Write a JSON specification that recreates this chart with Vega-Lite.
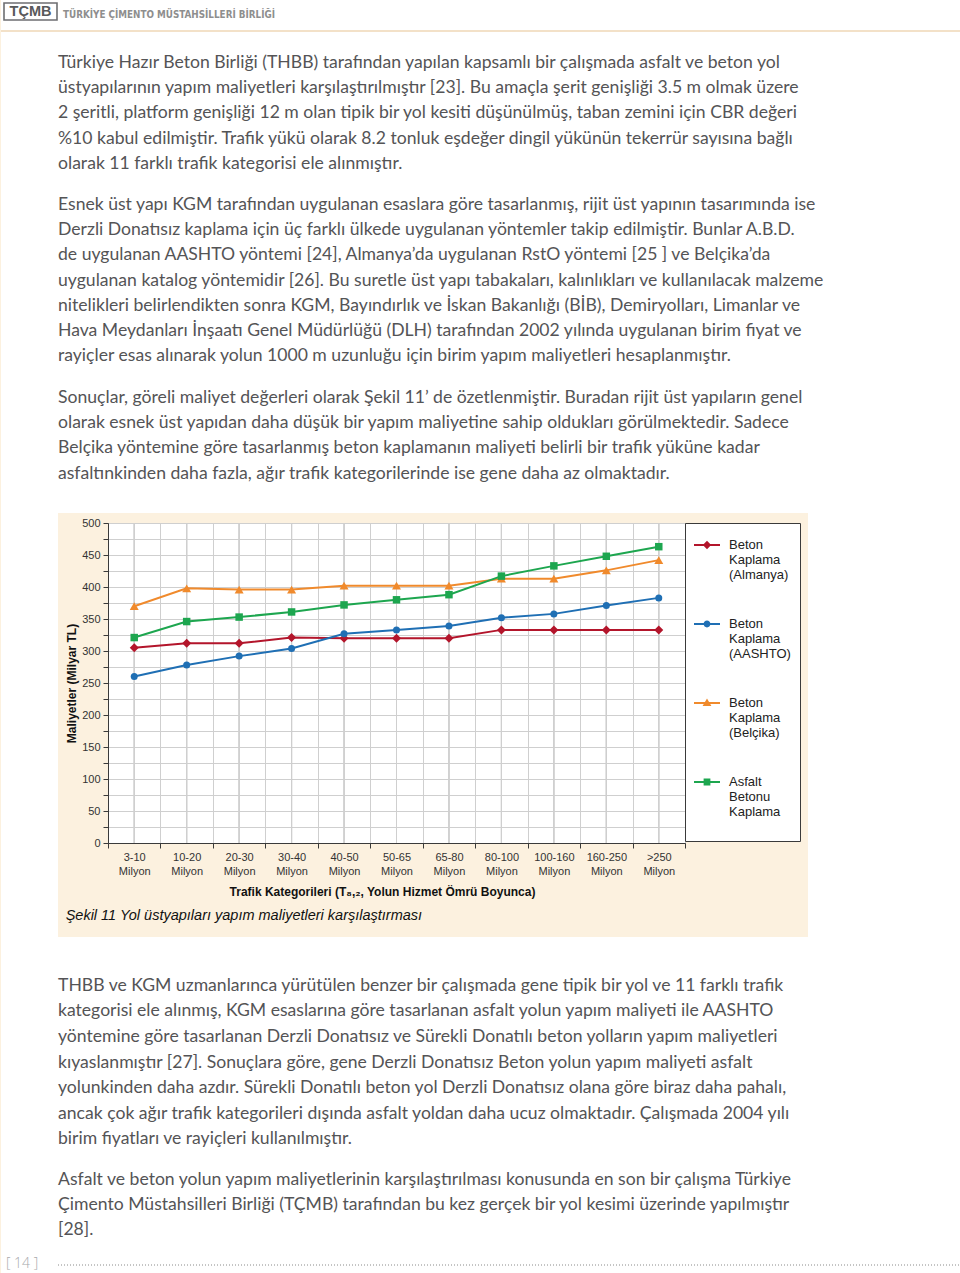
{
  "$schema": "https://vega.github.io/schema/vega-lite/v6.json",
  "padding": 0,
  "background": "#fcf1df",
  "spacing": 0,
  "resolve": {"scale": {"color": "independent", "shape": "independent"}, "legend": {"color": "independent", "shape": "independent"}},
  "config": {"view": {"stroke": null}, "font": "Liberation Sans"},
  "datasets": {
    "p1": [
      {"line": 1, "text": "Türkiye Hazır Beton Birliği (THBB) tarafından yapılan kapsamlı bir çalışmada asfalt ve beton yol"},
      {"line": 2, "text": "üstyapılarının yapım maliyetleri karşılaştırılmıştır [23]. Bu amaçla şerit genişliği 3.5 m olmak üzere"},
      {"line": 3, "text": "2 şeritli, platform genişliği 12 m olan tipik bir yol kesiti düşünülmüş, taban zemini için CBR değeri"},
      {"line": 4, "text": "%10 kabul edilmiştir. Trafik yükü olarak 8.2 tonluk eşdeğer dingil yükünün tekerrür sayısına bağlı"},
      {"line": 5, "text": "olarak 11 farklı trafik kategorisi ele alınmıştır."}
    ],
    "p2": [
      {"line": 1, "text": "Esnek üst yapı KGM tarafından uygulanan esaslara göre tasarlanmış, rijit üst yapının tasarımında ise"},
      {"line": 2, "text": "Derzli Donatısız kaplama için üç farklı ülkede uygulanan yöntemler takip edilmiştir. Bunlar A.B.D."},
      {"line": 3, "text": "de uygulanan AASHTO yöntemi [24], Almanya’da uygulanan RstO yöntemi [25 ] ve Belçika’da"},
      {"line": 4, "text": "uygulanan katalog yöntemidir [26]. Bu suretle üst yapı tabakaları, kalınlıkları ve kullanılacak malzeme"},
      {"line": 5, "text": "nitelikleri belirlendikten sonra KGM, Bayındırlık ve İskan Bakanlığı (BİB), Demiryolları, Limanlar ve"},
      {"line": 6, "text": "Hava Meydanları İnşaatı Genel Müdürlüğü (DLH) tarafından 2002 yılında uygulanan birim fiyat ve"},
      {"line": 7, "text": "rayiçler esas alınarak yolun 1000 m uzunluğu için birim yapım maliyetleri hesaplanmıştır."}
    ],
    "p3": [
      {"line": 1, "text": "Sonuçlar, göreli maliyet değerleri olarak Şekil 11’ de özetlenmiştir. Buradan rijit üst yapıların genel"},
      {"line": 2, "text": "olarak esnek üst yapıdan daha düşük bir yapım maliyetine sahip oldukları görülmektedir. Sadece"},
      {"line": 3, "text": "Belçika yöntemine göre tasarlanmış beton kaplamanın maliyeti belirli bir trafik yüküne kadar"},
      {"line": 4, "text": "asfaltınkinden daha fazla, ağır trafik kategorilerinde ise gene daha az olmaktadır."}
    ],
    "p4": [
      {"line": 1, "text": "THBB ve KGM uzmanlarınca yürütülen benzer bir çalışmada gene tipik bir yol ve 11 farklı trafik"},
      {"line": 2, "text": "kategorisi ele alınmış, KGM esaslarına göre tasarlanan asfalt yolun yapım maliyeti ile AASHTO"},
      {"line": 3, "text": "yöntemine göre tasarlanan Derzli Donatısız ve Sürekli Donatılı beton yolların yapım maliyetleri"},
      {"line": 4, "text": "kıyaslanmıştır [27]. Sonuçlara göre, gene Derzli Donatısız Beton yolun yapım maliyeti asfalt"},
      {"line": 5, "text": "yolunkinden daha azdır. Sürekli Donatılı beton yol Derzli Donatısız olana göre biraz daha pahalı,"},
      {"line": 6, "text": "ancak çok ağır trafik kategorileri dışında asfalt yoldan daha ucuz olmaktadır. Çalışmada 2004 yılı"},
      {"line": 7, "text": "birim fiyatları ve rayiçleri kullanılmıştır."}
    ],
    "p5": [
      {"line": 1, "text": "Asfalt ve beton yolun yapım maliyetlerinin karşılaştırılması konusunda en son bir çalışma Türkiye"},
      {"line": 2, "text": "Çimento Müstahsilleri Birliği (TÇMB) tarafından bu kez gerçek bir yol kesimi üzerinde yapılmıştır"},
      {"line": 3, "text": "[28]."}
    ],
    "cost": [
      {"series": "Beton Kaplama (Almanya)", "cat": "3-10 Milyon", "value": 305},
      {"series": "Beton Kaplama (Almanya)", "cat": "10-20 Milyon", "value": 312},
      {"series": "Beton Kaplama (Almanya)", "cat": "20-30 Milyon", "value": 312},
      {"series": "Beton Kaplama (Almanya)", "cat": "30-40 Milyon", "value": 321},
      {"series": "Beton Kaplama (Almanya)", "cat": "40-50 Milyon", "value": 320},
      {"series": "Beton Kaplama (Almanya)", "cat": "50-65 Milyon", "value": 320},
      {"series": "Beton Kaplama (Almanya)", "cat": "65-80 Milyon", "value": 320},
      {"series": "Beton Kaplama (Almanya)", "cat": "80-100 Milyon", "value": 333},
      {"series": "Beton Kaplama (Almanya)", "cat": "100-160 Milyon", "value": 333},
      {"series": "Beton Kaplama (Almanya)", "cat": "160-250 Milyon", "value": 333},
      {"series": "Beton Kaplama (Almanya)", "cat": ">250 Milyon", "value": 333},
      {"series": "Beton Kaplama (AASHTO)", "cat": "3-10 Milyon", "value": 260},
      {"series": "Beton Kaplama (AASHTO)", "cat": "10-20 Milyon", "value": 278},
      {"series": "Beton Kaplama (AASHTO)", "cat": "20-30 Milyon", "value": 292},
      {"series": "Beton Kaplama (AASHTO)", "cat": "30-40 Milyon", "value": 304},
      {"series": "Beton Kaplama (AASHTO)", "cat": "40-50 Milyon", "value": 327},
      {"series": "Beton Kaplama (AASHTO)", "cat": "50-65 Milyon", "value": 333},
      {"series": "Beton Kaplama (AASHTO)", "cat": "65-80 Milyon", "value": 339},
      {"series": "Beton Kaplama (AASHTO)", "cat": "80-100 Milyon", "value": 352},
      {"series": "Beton Kaplama (AASHTO)", "cat": "100-160 Milyon", "value": 358},
      {"series": "Beton Kaplama (AASHTO)", "cat": "160-250 Milyon", "value": 371},
      {"series": "Beton Kaplama (AASHTO)", "cat": ">250 Milyon", "value": 383},
      {"series": "Beton Kaplama (Belçika)", "cat": "3-10 Milyon", "value": 370},
      {"series": "Beton Kaplama (Belçika)", "cat": "10-20 Milyon", "value": 398},
      {"series": "Beton Kaplama (Belçika)", "cat": "20-30 Milyon", "value": 396},
      {"series": "Beton Kaplama (Belçika)", "cat": "30-40 Milyon", "value": 396},
      {"series": "Beton Kaplama (Belçika)", "cat": "40-50 Milyon", "value": 402},
      {"series": "Beton Kaplama (Belçika)", "cat": "50-65 Milyon", "value": 402},
      {"series": "Beton Kaplama (Belçika)", "cat": "65-80 Milyon", "value": 402},
      {"series": "Beton Kaplama (Belçika)", "cat": "80-100 Milyon", "value": 413},
      {"series": "Beton Kaplama (Belçika)", "cat": "100-160 Milyon", "value": 413},
      {"series": "Beton Kaplama (Belçika)", "cat": "160-250 Milyon", "value": 426},
      {"series": "Beton Kaplama (Belçika)", "cat": ">250 Milyon", "value": 442},
      {"series": "Asfalt Betonu Kaplama", "cat": "3-10 Milyon", "value": 321},
      {"series": "Asfalt Betonu Kaplama", "cat": "10-20 Milyon", "value": 346},
      {"series": "Asfalt Betonu Kaplama", "cat": "20-30 Milyon", "value": 353},
      {"series": "Asfalt Betonu Kaplama", "cat": "30-40 Milyon", "value": 361},
      {"series": "Asfalt Betonu Kaplama", "cat": "40-50 Milyon", "value": 372},
      {"series": "Asfalt Betonu Kaplama", "cat": "50-65 Milyon", "value": 380},
      {"series": "Asfalt Betonu Kaplama", "cat": "65-80 Milyon", "value": 388},
      {"series": "Asfalt Betonu Kaplama", "cat": "80-100 Milyon", "value": 417},
      {"series": "Asfalt Betonu Kaplama", "cat": "100-160 Milyon", "value": 433},
      {"series": "Asfalt Betonu Kaplama", "cat": "160-250 Milyon", "value": 448},
      {"series": "Asfalt Betonu Kaplama", "cat": ">250 Milyon", "value": 463}
    ]
  },
  "vconcat": [
    {
      "width": 960, "height": 50,
      "view": {"fill": "white", "stroke": null},
      "data": {"values": [{"logo": "TÇMB", "org": "TÜRKİYE ÇİMENTO MÜSTAHSİLLERİ BİRLİĞİ"}]},
      "layer": [
        {"mark": {"type": "rect", "fill": "white", "stroke": "#6d6e71", "strokeWidth": 1.6}, "encoding": {"x": {"value": 3}, "x2": {"value": 56}, "y": {"value": 3}, "y2": {"value": 20}}},
        {"mark": {"type": "text", "align": "center", "baseline": "middle", "font": "Liberation Sans", "fontSize": 14.5, "fontWeight": "bold", "color": "#58595b"}, "encoding": {"x": {"value": 29.5}, "y": {"value": 12}, "text": {"field": "logo"}}},
        {"mark": {"type": "text", "align": "left", "baseline": "middle", "font": "DejaVu Sans Condensed, Roboto Condensed, Roboto", "fontSize": 9.8, "fontWeight": "bold", "color": "#8e8e8e"}, "encoding": {"x": {"value": 62}, "y": {"value": 15}, "text": {"field": "org"}}},
        {"mark": {"type": "rule", "color": "#f3e1c8", "strokeWidth": 2}, "encoding": {"y": {"value": 31}}}
      ]
    },
    {
      "width": 960, "height": 142,
      "view": {"fill": "white", "stroke": null},
      "data": {"name": "p1"},
      "mark": {"type": "text", "align": "left", "baseline": "middle", "font": "Lato", "fontSize": 17.6, "color": "#545456"},
      "encoding": {
        "y": {"field": "line", "type": "ordinal", "axis": null, "scale": {"type": "band", "paddingInner": 0, "paddingOuter": 0.3063, "align": 0}},
        "x": {"value": 57},
        "text": {"field": "text"}
      }
    },
    {
      "width": 960, "height": 193,
      "view": {"fill": "white", "stroke": null},
      "data": {"name": "p2"},
      "mark": {"type": "text", "align": "left", "baseline": "middle", "font": "Lato", "fontSize": 17.6, "color": "#545456"},
      "encoding": {
        "y": {"field": "line", "type": "ordinal", "axis": null, "scale": {"type": "band", "paddingInner": 0, "paddingOuter": 0.3142, "align": 0}},
        "x": {"value": 57},
        "text": {"field": "text"}
      }
    },
    {
      "width": 960, "height": 128,
      "view": {"fill": "white", "stroke": null},
      "data": {"name": "p3"},
      "mark": {"type": "text", "align": "left", "baseline": "middle", "font": "Lato", "fontSize": 17.6, "color": "#545456"},
      "encoding": {
        "y": {"field": "line", "type": "ordinal", "axis": null, "scale": {"type": "band", "paddingInner": 0, "paddingOuter": 0.5296, "align": 0}},
        "x": {"value": 57},
        "text": {"field": "text"}
      }
    },
    {
      "spacing": 7,
      "resolve": {"scale": {"color": "independent", "shape": "independent"}, "legend": {"color": "independent", "shape": "independent"}},
      "hconcat": [
        {"width": 57, "height": 424, "view": {"fill": "white", "stroke": null}, "data": {"values": []}, "mark": "text", "encoding": {}},
        {
          "spacing": 2,
          "resolve": {"scale": {"color": "independent", "shape": "independent"}, "legend": {"color": "independent", "shape": "independent"}},
          "vconcat": [
            {"width": 1, "height": 1, "data": {"values": []}, "mark": "text", "encoding": {}},
            {
              "width": 577, "height": 320,
              "view": {"fill": "white", "stroke": "#3a3a3a", "strokeWidth": 1},
              "data": {"name": "cost"},
              "title": {"text": "Şekil 11 Yol üstyapıları yapım maliyetleri karşılaştırması", "orient": "bottom", "anchor": "start", "frame": "bounds", "font": "Liberation Sans", "fontSize": 14.5, "fontStyle": "italic", "fontWeight": "normal", "color": "#111111", "offset": 12},
              "encoding": {
                "x": {
                  "field": "cat", "type": "ordinal",
                  "sort": ["3-10 Milyon", "10-20 Milyon", "20-30 Milyon", "30-40 Milyon", "40-50 Milyon", "50-65 Milyon", "65-80 Milyon", "80-100 Milyon", "100-160 Milyon", "160-250 Milyon", ">250 Milyon"],
                  "scale": {"type": "band", "paddingInner": 0, "paddingOuter": 0},
                  "axis": {
                    "tickBand": "extent", "grid": true, "gridColor": "#cfcfcf", "gridWidth": 1,
                    "domainColor": "#3a3a3a", "tickColor": "#3a3a3a", "tickSize": 5,
                    "labelAngle": 0, "labelExpr": "split(datum.label, ' ')", "labelLineHeight": 14,
                    "labelPadding": 3, "labelFontSize": 11, "labelColor": "#333333", "labelFont": "Liberation Sans",
                    "title": "Trafik Kategorileri (T₈,₂, Yolun Hizmet Ömrü Boyunca)",
                    "titleX": 274,
                    "titleFont": "Liberation Sans", "titleFontSize": 12, "titleFontWeight": "bold", "titleColor": "#111111", "titlePadding": 10
                  }
                },
                "y": {
                  "field": "value", "type": "quantitative",
                  "scale": {"domain": [0, 500], "nice": false},
                  "axis": {
                    "values": [0, 25, 50, 75, 100, 125, 150, 175, 200, 225, 250, 275, 300, 325, 350, 375, 400, 425, 450, 475, 500],
                    "labelExpr": "datum.value % 50 === 0 ? datum.label : ''",
                    "labelOverlap": false,
                    "grid": true, "gridColor": "#cfcfcf", "gridWidth": 1,
                    "domainColor": "#3a3a3a", "tickColor": "#3a3a3a", "tickSize": 5,
                    "labelPadding": 3, "labelFontSize": 11, "labelColor": "#333333", "labelFont": "Liberation Sans",
                    "title": "Maliyetler (Milyar TL)", "titleFont": "Liberation Sans", "titleFontSize": 12, "titleFontWeight": "bold", "titleColor": "#111111", "titlePadding": 3
                  }
                },
                "color": {
                  "field": "series", "type": "nominal",
                  "scale": {"domain": ["Beton Kaplama (Almanya)", "Beton Kaplama (AASHTO)", "Beton Kaplama (Belçika)", "Asfalt Betonu Kaplama"], "range": ["#b3152b", "#1f6fb4", "#f08a2c", "#1da64f"]},
                  "legend": {
                    "title": " ", "titleFontSize": 12, "titlePadding": 2, "titleOrient": "bottom",
                    "orient": "right", "offset": 0, "padding": 9,
                    "strokeColor": "#3a3a3a", "fillColor": "white",
                    "symbolSize": 676, "symbolOpacity": 1, "symbolStrokeWidth": 0,
                    "labelExpr": "split(datum.label, ' ')", "labelFont": "Liberation Sans", "labelFontSize": 13, "labelColor": "#222222",
                    "labelOffset": 9, "labelLimit": 200, "rowPadding": 29
                  }
                }
              },
              "layer": [
                {
                  "mark": {"type": "rule", "strokeWidth": 1},
                  "encoding": {"y": {"datum": 0}, "y2": {"datum": 500}, "color": {"value": "#cfcfcf"}}
                },
                {
                  "mark": {"type": "line", "strokeWidth": 2},
                  "encoding": {"order": {"value": null}}
                },
                {
                  "transform": [{"filter": {"field": "series", "equal": "Beton Kaplama (Almanya)"}}],
                  "mark": {"type": "point", "shape": "diamond", "filled": true, "size": 81, "opacity": 1}
                },
                {
                  "transform": [{"filter": {"field": "series", "equal": "Beton Kaplama (AASHTO)"}}],
                  "mark": {"type": "point", "shape": "circle", "filled": true, "size": 49, "opacity": 1}
                },
                {
                  "transform": [{"filter": {"field": "series", "equal": "Beton Kaplama (Belçika)"}}],
                  "mark": {"type": "point", "shape": "triangle-up", "filled": true, "size": 81, "opacity": 1}
                },
                {
                  "transform": [{"filter": {"field": "series", "equal": "Asfalt Betonu Kaplama"}}],
                  "mark": {"type": "point", "shape": "square", "filled": true, "size": 56, "opacity": 1}
                },
                {
                  "mark": {"type": "point", "filled": true, "opacity": 0},
                  "encoding": {
                    "shape": {
                      "field": "series", "type": "nominal",
                      "scale": {"domain": ["Beton Kaplama (Almanya)", "Beton Kaplama (AASHTO)", "Beton Kaplama (Belçika)", "Asfalt Betonu Kaplama"],
                        "range": [
                          "M-1,-0.08H1V0.08H-1Z M-0.32,0L0,-0.32L0.32,0L0,0.32Z",
                          "M-1,-0.08H1V0.08H-1Z M-0.26,0A0.26,0.26 0 1,1 0.26,0A0.26,0.26 0 1,1 -0.26,0Z",
                          "M-1,-0.08H1V0.08H-1Z M0,-0.34L0.34,0.24L-0.34,0.24Z",
                          "M-1,-0.08H1V0.08H-1Z M-0.26,-0.26H0.26V0.26H-0.26Z"
                        ]},
                      "legend": {
                        "title": " ", "titleFontSize": 12, "titlePadding": 2, "titleOrient": "bottom",
                        "orient": "right", "offset": 0, "padding": 9,
                        "strokeColor": "#3a3a3a", "fillColor": "white",
                        "symbolSize": 676, "symbolOpacity": 1, "symbolStrokeWidth": 0,
                        "labelExpr": "split(datum.label, ' ')", "labelFont": "Liberation Sans", "labelFontSize": 13, "labelColor": "#222222",
                        "labelOffset": 9, "labelLimit": 200, "rowPadding": 29
                      }
                    }
                  }
                }
              ]
            }
          ]
        },
        {"width": 156, "height": 424, "view": {"fill": "white", "stroke": null}, "data": {"values": []}, "mark": "text", "encoding": {}}
      ]
    },
    {
      "width": 960, "height": 230,
      "view": {"fill": "white", "stroke": null},
      "data": {"name": "p4"},
      "mark": {"type": "text", "align": "left", "baseline": "middle", "font": "Lato", "fontSize": 17.6, "color": "#545456"},
      "encoding": {
        "y": {"field": "line", "type": "ordinal", "axis": null, "scale": {"type": "band", "paddingInner": 0, "paddingOuter": 1.0455, "align": 0.706}},
        "x": {"value": 57},
        "text": {"field": "text"}
      }
    },
    {
      "width": 960, "height": 76,
      "view": {"fill": "white", "stroke": null},
      "data": {"name": "p5"},
      "mark": {"type": "text", "align": "left", "baseline": "middle", "font": "Lato", "fontSize": 17.6, "color": "#545456"},
      "encoding": {
        "y": {"field": "line", "type": "ordinal", "axis": null, "scale": {"type": "band", "paddingInner": 0, "paddingOuter": 0, "align": 0}},
        "x": {"value": 57},
        "text": {"field": "text"}
      }
    },
    {
      "width": 960, "height": 32,
      "view": {"fill": "white", "stroke": null},
      "data": {"values": [{"page": "[ 14 ]"}]},
      "layer": [
        {"mark": {"type": "text", "align": "left", "baseline": "middle", "font": "Open Sans", "fontWeight": 300, "fontSize": 14, "color": "#a7a9ac"}, "encoding": {"x": {"value": 5}, "y": {"value": 21}, "text": {"field": "page"}}},
        {"mark": {"type": "rule", "color": "#8a8a8a", "strokeWidth": 1, "strokeDash": [1, 2]}, "encoding": {"x": {"value": 57}, "x2": {"value": 960}, "y": {"value": 22}}}
      ]
    }
  ]
}
